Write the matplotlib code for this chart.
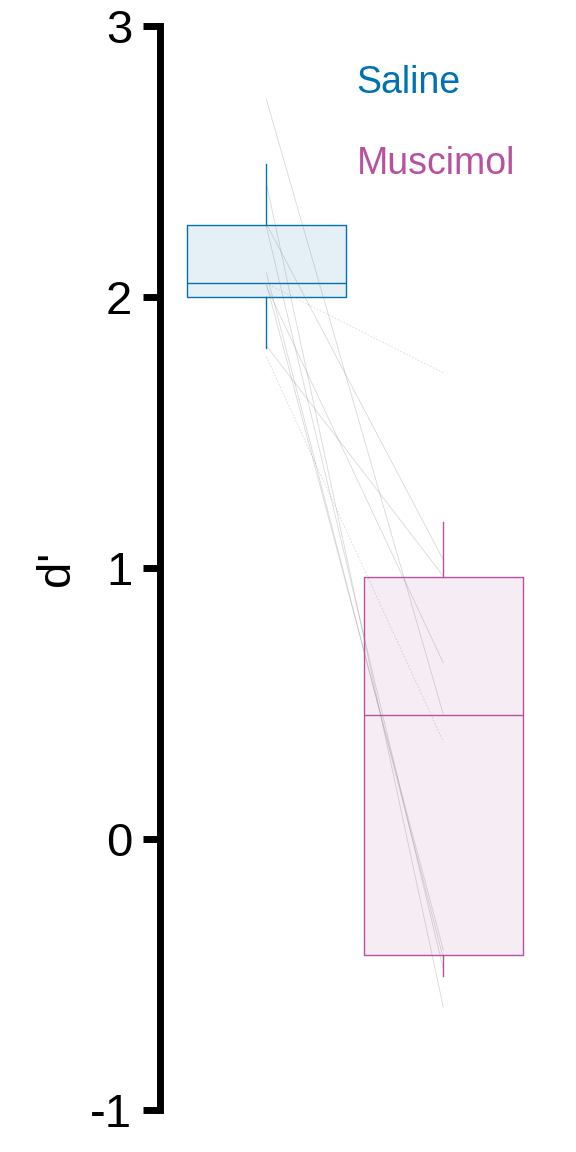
import matplotlib.pyplot as plt

plt.rcParams['font.family'] = ['Liberation Sans', 'DejaVu Sans']

groups = ['Saline', 'Muscimol']
colors = ['#0072B2', '#B8529F']
fills = ['#E5EFF6', '#F6ECF4']

# box summary (whisker low, q1, median, q3, whisker high)
box_stats = [
    [1.81, 2.00, 2.05, 2.265, 2.49],
    [-0.505, -0.428, 0.458, 0.967, 1.17],
]

# paired d' per animal
saline = [2.73, 2.42, 2.27, 2.26, 2.09, 2.05, 2.04, 1.82, 1.78, 2.05]
muscimol = [0.46, -0.62, 1.03, -0.48, -0.44, -0.41, 0.65, 0.97, 0.36, 1.72]
dotted = [False, False, False, False, False, False, False, False, True, True]

fig = plt.figure(figsize=(5.76, 11.52), dpi=100)
ax = fig.add_axes([0.278, 0.0365, 0.722, 0.941])

for s, m, d in zip(saline, muscimol, dotted):
    ax.plot([1, 2], [s, m], color='#808080', lw=0.6, alpha=0.3,
            ls=(0, (2, 2)) if d else '-', zorder=3)

stats = []
for g, b in zip(groups, box_stats):
    stats.append({'label': g, 'whislo': b[0], 'q1': b[1], 'med': b[2],
                  'q3': b[3], 'whishi': b[4], 'fliers': []})

for i, st in enumerate(stats):
    ax.bxp([st], positions=[i + 1], widths=0.9, patch_artist=True,
           showcaps=False, manage_ticks=False,
           boxprops=dict(facecolor=fills[i], edgecolor=colors[i], lw=1),
           medianprops=dict(color=colors[i], lw=1),
           whiskerprops=dict(color=colors[i], lw=1), zorder=2)

ax.text(1.51, 2.79, 'Saline', color=colors[0], fontsize=27, va='center')
ax.text(1.51, 2.49, 'Muscimol', color=colors[1], fontsize=27, va='center')

ax.set_xlim(0.40, 2.75)
ax.set_ylim(-1, 3)
ax.set_yticks([-1, 0, 1, 2, 3])
ax.set_yticklabels(['-1', '0', '1', '2', '3'])
ax.set_xticks([])
ax.set_ylabel("d'", fontsize=34, labelpad=8)
ax.tick_params(axis='y', labelsize=34, width=5, length=12, pad=8)
for sp in ['top', 'right', 'bottom']:
    ax.spines[sp].set_visible(False)
ax.spines['left'].set_linewidth(5)
ax.spines['left'].set_bounds(-1, 3)

fig.savefig('out.png', dpi=100)
